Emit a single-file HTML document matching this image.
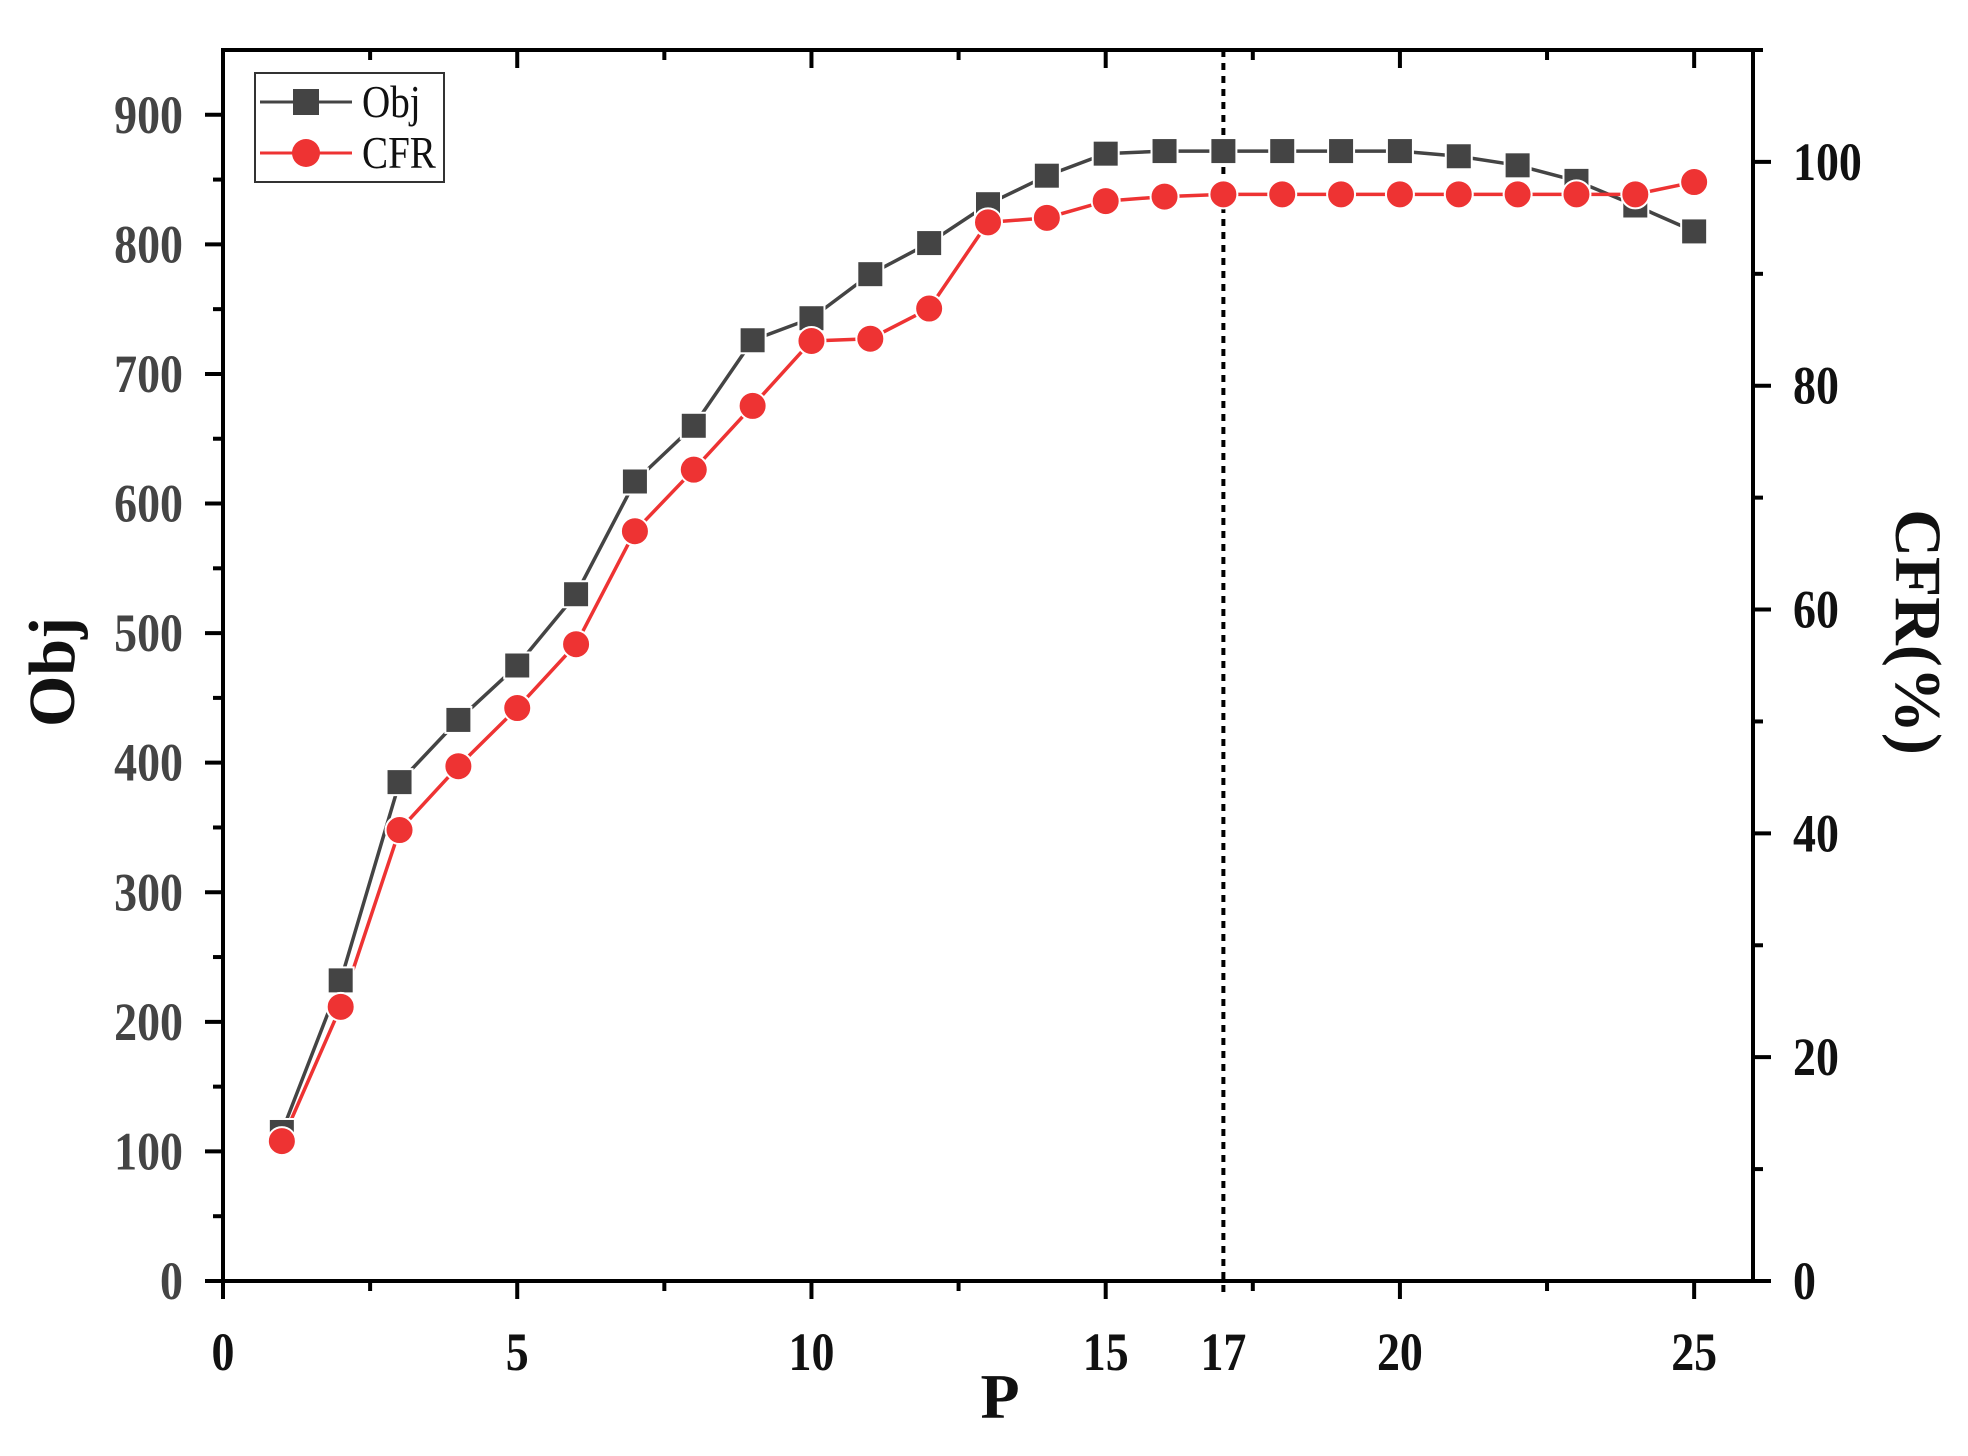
<!DOCTYPE html>
<html><head><meta charset="utf-8">
<style>
html,body{margin:0;padding:0;background:#fff;}
svg{display:block;font-family:"Liberation Serif",serif;font-weight:bold;}
</style></head>
<body>
<svg id="chart" width="1968" height="1456" viewBox="0 0 1968 1456" xmlns="http://www.w3.org/2000/svg">
<g id="plot"></g>
</svg>
<script>
const categories = [1,2,3,4,5,6,7,8,9,10,11,12,13,14,15,16,17,18,19,20,21,22,23,24,25];
const objValues = [115,232,385,433,475,530,617,660,726,743,777,801,831,853,870,872,872,872,872,872,868,861,849,830,810];
const cfrValues = [12.5,24.5,40.3,46,51.2,56.9,67,72.5,78.2,84,84.2,86.9,94.6,95,96.5,96.9,97.1,97.1,97.1,97.1,97.1,97.1,97.1,97.1,98.2];
const xTicks = [0,5,10,15,17,20,25];
const yLeftTicks = [0,100,200,300,400,500,600,700,800,900];
const yRightTicks = [0,20,40,60,80,100];
const markerX = 17;

const L=223,R=1753,T=50,B=1281;
const NS='http://www.w3.org/2000/svg';
const g=document.getElementById('plot');
const xs=v=>L+(v/26)*(R-L);
const yl=v=>B-(v/950)*(B-T);
const yr=v=>B-(v/110)*(B-T);
function mk(tag,attrs,parent){const e=document.createElementNS(NS,tag);for(const k in attrs)e.setAttribute(k,attrs[k]);(parent||g).appendChild(e);return e;}
// condensed text helper: draws text scaled horizontally
function ctext(x,y,anchor,size,fill,sx){
  const t=mk('text',{x:0,y:0,'text-anchor':anchor,'font-size':size,fill:fill,transform:'translate('+x+','+y+') scale('+sx+',1)'});
  return t;
}

// vertical dotted line
let e=mk('line',{x1:xs(markerX),x2:xs(markerX),y1:T,y2:B+15,stroke:'#000','stroke-width':4,'stroke-dasharray':'7,6'});



// axes frame
e=mk('rect',{x:L,y:T,width:R-L,height:B-T,fill:'none',stroke:'#000','stroke-width':4});



for(let v=0;v<=25;v+=2.5){
  const major=v%5===0;
  const len=major?18:10;
  e=mk('line',{x1:xs(v),x2:xs(v),y1:B,y2:B+len,stroke:'#000','stroke-width':4});
  
  
  e=mk('line',{x1:xs(v),x2:xs(v),y1:T,y2:T+len,stroke:'#000','stroke-width':4});
  
  
}
xTicks.forEach(v=>{
  const t=ctext(xs(v),1370,'middle',54,'#111',0.85);
  t.textContent=v;
  
  
});
for(let v=0;v<=900;v+=50){
  const major=v%100===0;
  e=mk('line',{x1:L-(major?18:10),x2:L,y1:yl(v),y2:yl(v),stroke:'#000','stroke-width':4});
  
  
}
yLeftTicks.forEach(v=>{
  const t=ctext(L-40,yl(v)+18,'end',54,'#444',0.85);
  t.textContent=v;
  
  
});
for(let v=0;v<=110;v+=10){
  const major=v%20===0;
  e=mk('line',{x1:R,x2:R+(major?18:10),y1:yr(v),y2:yr(v),stroke:'#000','stroke-width':4});
  
  
}
yRightTicks.forEach(v=>{
  const t=ctext(R+40,yr(v)+18,'start',54,'#111',0.85);
  t.textContent=v;
  
  
});
e=mk('text',{x:1000,y:1418,'text-anchor':'middle','font-size':64,fill:'#111'});
e.textContent='P';


e=mk('text',{x:0,y:0,'text-anchor':'middle','font-size':66,fill:'#111',transform:'translate(74,672) rotate(-90)'});
e.textContent='Obj';


e=mk('text',{x:0,y:0,'text-anchor':'middle','font-size':66,fill:'#111',transform:'translate(1896,632) rotate(90)'});
e.textContent='CFR(%)';



const objPts=categories.map((c,i)=>xs(c)+','+yl(objValues[i])).join(' ');
e=mk('polyline',{points:objPts,fill:'none',stroke:'#444','stroke-width':3.5});


const cfrPts=categories.map((c,i)=>xs(c)+','+yr(cfrValues[i])).join(' ');
e=mk('polyline',{points:cfrPts,fill:'none',stroke:'#ee3333','stroke-width':3.5});


categories.forEach((c,i)=>{
  const r=mk('rect',{x:xs(c)-13,y:yl(objValues[i])-13,width:26,height:26,fill:'#444',stroke:'#fff','stroke-width':2});
  
  
});
categories.forEach((c,i)=>{
  const ci=mk('circle',{cx:xs(c),cy:yr(cfrValues[i]),r:14,fill:'#ee3333',stroke:'#fff','stroke-width':2});
  
  
});

const lg=mk('g',{});


mk('rect',{x:255,y:73,width:189,height:109,fill:'#fff',stroke:'#333','stroke-width':2},lg);
mk('line',{x1:260,x2:352,y1:102,y2:102,stroke:'#444','stroke-width':3},lg);
e=mk('rect',{x:293,y:89,width:26,height:26,fill:'#444'},lg);


e=mk('text',{x:0,y:0,'font-size':46,'font-weight':'normal',fill:'#111',transform:'translate(362,117) scale(0.85,1)'},lg);
e.textContent='Obj';


mk('line',{x1:260,x2:352,y1:153,y2:153,stroke:'#ee3333','stroke-width':3},lg);
e=mk('circle',{cx:306,cy:153,r:14,fill:'#ee3333'},lg);


e=mk('text',{x:0,y:0,'font-size':46,'font-weight':'normal',fill:'#111',transform:'translate(362,168) scale(0.85,1)'},lg);
e.textContent='CFR';


</script>
</body></html>
